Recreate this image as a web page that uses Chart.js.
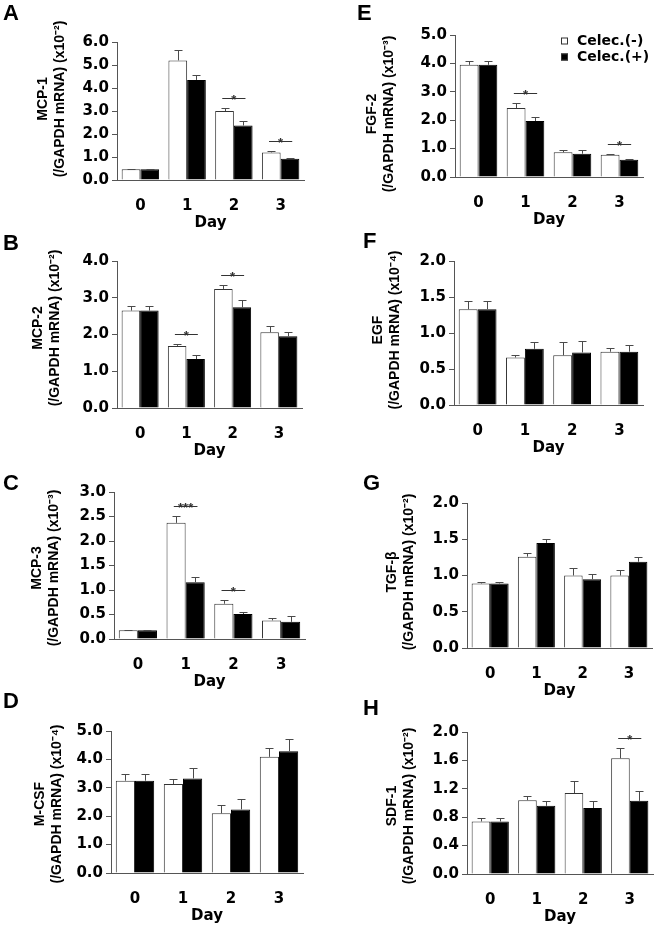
<!DOCTYPE html>
<html lang="en">
<head>
<meta charset="UTF-8">
<title>Cytokine mRNA - Celecoxib</title>
<script src="https://cdn.jsdelivr.net/npm/chart.js@4"></script>
<style>
  body { margin: 0; background: #fff; }
  #fig { position: relative; width: 660px; height: 931px; }
  #fig canvas { position: absolute; }
  .tag { position: absolute; font: bold 22px 'Liberation Sans', Arial, sans-serif; color: #000; line-height: 1; }
</style>
</head>
<body>
<div id="fig"></div>
<script>
  // categories
  const days = ['0', '1', '2', '3'];
  const groupNames = ['Celec.(-)', 'Celec.(+)'];

  // A MCP-1 (x10^-2)
  const mcp1Neg = [0.47, 5.2, 3.0, 1.2];
  const mcp1NegErr = [0.02, 0.45, 0.15, 0.08];
  const mcp1Pos = [0.47, 4.35, 2.37, 0.92];
  const mcp1PosErr = [0.02, 0.22, 0.18, 0.04];
  const mcp1Sig = [2, 3];
  const mcp1Marks = ['*', '*'];

  // B MCP-2 (x10^-2)
  const mcp2Neg = [2.65, 1.69, 3.24, 2.06];
  const mcp2NegErr = [0.12, 0.06, 0.11, 0.18];
  const mcp2Pos = [2.65, 1.33, 2.74, 1.95];
  const mcp2PosErr = [0.12, 0.11, 0.19, 0.13];
  const mcp2Sig = [1, 2];
  const mcp2Marks = ['*', '*'];

  // C MCP-3 (x10^-3)
  const mcp3Neg = [0.18, 2.37, 0.72, 0.38];
  const mcp3NegErr = [0.01, 0.14, 0.07, 0.04];
  const mcp3Pos = [0.18, 1.16, 0.51, 0.35];
  const mcp3PosErr = [0.01, 0.10, 0.04, 0.12];
  const mcp3Sig = [1, 2];
  const mcp3Marks = ['***', '*'];

  // D M-CSF (x10^-4)
  const mcsfNeg = [3.25, 3.13, 2.10, 4.09];
  const mcsfNegErr = [0.25, 0.17, 0.29, 0.31];
  const mcsfPos = [3.25, 3.33, 2.24, 4.29];
  const mcsfPosErr = [0.25, 0.35, 0.35, 0.44];

  // E FGF-2 (x10^-3)
  const fgf2Neg = [3.95, 2.43, 0.87, 0.78];
  const fgf2NegErr = [0.12, 0.17, 0.07, 0.04];
  const fgf2Pos = [3.95, 1.97, 0.82, 0.61];
  const fgf2PosErr = [0.12, 0.13, 0.12, 0.03];
  const fgf2Sig = [1, 3];
  const fgf2Marks = ['*', '*'];

  // F EGF (x10^-4)
  const egfNeg = [1.33, 0.66, 0.69, 0.74];
  const egfNegErr = [0.12, 0.04, 0.19, 0.05];
  const egfPos = [1.33, 0.78, 0.73, 0.74];
  const egfPosErr = [0.12, 0.10, 0.16, 0.09];

  // G TGF-beta (x10^-2)
  const tgfbNeg = [0.89, 1.26, 1.00, 1.00];
  const tgfbNegErr = [0.02, 0.05, 0.11, 0.08];
  const tgfbPos = [0.89, 1.45, 0.95, 1.19];
  const tgfbPosErr = [0.02, 0.06, 0.07, 0.06];

  // H SDF-1 (x10^-2)
  const sdf1Neg = [0.74, 1.04, 1.14, 1.63];
  const sdf1NegErr = [0.045, 0.06, 0.17, 0.15];
  const sdf1Pos = [0.74, 0.96, 0.93, 1.03];
  const sdf1PosErr = [0.045, 0.07, 0.10, 0.14];
  const sdf1Sig = [3];
  const sdf1Marks = ['*'];

  const FONT = "'Liberation Sans', Arial, sans-serif";
  const WIDE = "'DejaVu Sans', 'Liberation Sans', sans-serif";

  // panel layout: chart area [left, right, top, bottom] in page pixels
  const panels = [
    { tag: 'A', name: 'MCP-1', exp: '⁻²', neg: mcp1Neg, negErr: mcp1NegErr, pos: mcp1Pos, posErr: mcp1PosErr, sig: mcp1Sig, marks: mcp1Marks, max: 6, step: 1, col: 0, area: [117, 304, 42, 180], titleX: 43, titleY: 99, tagPos: [3, 2] },
    { tag: 'B', name: 'MCP-2', exp: '⁻²', neg: mcp2Neg, negErr: mcp2NegErr, pos: mcp2Pos, posErr: mcp2PosErr, sig: mcp2Sig, marks: mcp2Marks, max: 4, step: 1, col: 0, area: [117, 302, 261, 408], titleX: 38, titleY: 328, tagPos: [3, 232] },
    { tag: 'C', name: 'MCP-3', exp: '⁻³', neg: mcp3Neg, negErr: mcp3NegErr, pos: mcp3Pos, posErr: mcp3PosErr, sig: mcp3Sig, marks: mcp3Marks, max: 3, step: 0.5, col: 0, area: [114, 305, 492, 639], titleX: 37, titleY: 568, tagPos: [3, 472] },
    { tag: 'D', name: 'M-CSF', exp: '⁻⁴', neg: mcsfNeg, negErr: mcsfNegErr, pos: mcsfPos, posErr: mcsfPosErr, sig: [], marks: [], max: 5, step: 1, col: 0, area: [111, 303, 731, 873], titleX: 40, titleY: 804, tagPos: [3, 690] },
    { tag: 'E', name: 'FGF-2', exp: '⁻³', neg: fgf2Neg, negErr: fgf2NegErr, pos: fgf2Pos, posErr: fgf2PosErr, sig: fgf2Sig, marks: fgf2Marks, max: 5, step: 1, col: 1, area: [455, 643, 35, 177], titleX: 42, titleY: 114, tagPos: [357, 2], legend: true },
    { tag: 'F', name: 'EGF', exp: '⁻⁴', neg: egfNeg, negErr: egfNegErr, pos: egfPos, posErr: egfPosErr, sig: [], marks: [], max: 2, step: 0.5, col: 1, area: [454, 643, 261, 405], titleX: 48, titleY: 330, tagPos: [363, 230] },
    { tag: 'G', name: 'TGF-β', exp: '⁻²', neg: tgfbNeg, negErr: tgfbNegErr, pos: tgfbPos, posErr: tgfbPosErr, sig: [], marks: [], max: 2, step: 0.5, col: 1, area: [467, 652, 503, 648], titleX: 62, titleY: 572, tagPos: [363, 472] },
    { tag: 'H', name: 'SDF-1', exp: '⁻²', neg: sdf1Neg, negErr: sdf1NegErr, pos: sdf1Pos, posErr: sdf1PosErr, sig: sdf1Sig, marks: sdf1Marks, max: 2, step: 0.4, col: 1, area: [467, 653, 732, 874], titleX: 62, titleY: 806, tagPos: [363, 697] }
  ];

  // error bars (upper whisker only)
  const errorBars = {
    id: 'errorBars',
    afterDatasetsDraw(chart) {
      const ctx = chart.ctx;
      const y = chart.scales.y;
      chart.data.datasets.forEach((ds, i) => {
        chart.getDatasetMeta(i).data.forEach((bar, j) => {
          const x = Math.round(bar.x) + 0.5;
          const top = Math.round(y.getPixelForValue(ds.data[j] + ds.err[j])) + 0.5;
          ctx.save();
          ctx.strokeStyle = '#4a4a4a';
          ctx.lineWidth = 1;
          ctx.beginPath();
          ctx.moveTo(x, bar.y);
          ctx.lineTo(x, top);
          ctx.moveTo(x - 4, top);
          ctx.lineTo(x + 4, top);
          ctx.stroke();
          ctx.restore();
        });
      });
    }
  };

  // significance line + stars
  const sigMarks = {
    id: 'sigMarks',
    afterDatasetsDraw(chart, args, opts) {
      if (!opts.days || !opts.days.length) return;
      const ctx = chart.ctx;
      const y = chart.scales.y;
      const x = chart.scales.x;
      const ds = chart.data.datasets;
      opts.days.forEach((d, k) => {
        const w = chart.getDatasetMeta(0).data[d].width;
        const cx = x.getPixelForValue(d);
        const top = Math.min(
          y.getPixelForValue(ds[0].data[d] + ds[0].err[d]),
          y.getPixelForValue(ds[1].data[d] + ds[1].err[d])
        );
        const ly = Math.round(top - 10) + 0.5;
        ctx.save();
        ctx.strokeStyle = '#333';
        ctx.lineWidth = 1;
        ctx.beginPath();
        ctx.moveTo(cx - w * 0.62, ly);
        ctx.lineTo(cx + w * 0.62, ly);
        ctx.stroke();
        ctx.fillStyle = '#333';
        ctx.font = 'bold 13px ' + FONT;
        ctx.textAlign = 'center';
        ctx.textBaseline = 'alphabetic';
        ctx.fillText(opts.marks[k], cx, ly + 5);
        ctx.restore();
      });
    }
  };

  // rotated two-line y title
  const yTitle = {
    id: 'yTitle',
    afterDraw(chart, args, opts) {
      const ctx = chart.ctx;
      ctx.save();
      ctx.translate(opts.x, opts.y);
      ctx.rotate(-Math.PI / 2);
      ctx.font = 'bold 14px ' + FONT;
      ctx.fillStyle = '#000';
      ctx.textAlign = 'center';
      ctx.textBaseline = 'middle';
      opts.lines.forEach((t, i) => ctx.fillText(t, 0, i * 17));
      ctx.restore();
    }
  };

  // small box legend drawn inside panel E
  const boxLegend = {
    id: 'boxLegend',
    afterDraw(chart, args, opts) {
      if (!opts.show) return;
      const ctx = chart.ctx;
      const a = chart.chartArea;
      const bx = a.right - 82, by = a.top + 6;
      ctx.save();
      ctx.font = 'bold 14px ' + WIDE;
      ctx.textBaseline = 'middle';
      ctx.textAlign = 'left';
      chart.data.datasets.forEach((ds, i) => {
        const cy = by + i * 16;
        ctx.fillStyle = ds.backgroundColor;
        ctx.fillRect(bx, cy - 3.5, 7, 7);
        ctx.strokeStyle = '#333';
        ctx.lineWidth = 1;
        ctx.strokeRect(bx + 0.5, cy - 3.5 + 0.5, 6, 6);
        ctx.fillStyle = '#000';
        ctx.fillText(ds.label, bx + 16, cy);
      });
      ctx.restore();
    }
  };

  const fig = document.getElementById('fig');

  panels.forEach(p => {
    const [L, R, T, B] = p.area;
    const cLeft = p.col * 330;
    const cTop = T - 25;
    const cW = 330;
    const cH = B - cTop + 54;

    const canvas = document.createElement('canvas');
    canvas.width = cW;
    canvas.height = cH;
    canvas.style.left = cLeft + 'px';
    canvas.style.top = cTop + 'px';
    fig.appendChild(canvas);

    const tag = document.createElement('div');
    tag.className = 'tag';
    tag.textContent = p.tag;
    tag.style.left = p.tagPos[0] + 'px';
    tag.style.top = p.tagPos[1] + 'px';
    fig.appendChild(tag);

    new Chart(canvas, {
      type: 'bar',
      data: {
        labels: days,
        datasets: [
          { label: groupNames[0], data: p.neg, err: p.negErr, backgroundColor: '#ffffff', borderColor: '#333333', borderWidth: 1 },
          { label: groupNames[1], data: p.pos, err: p.posErr, backgroundColor: '#000000', borderColor: '#000000', borderWidth: 1 }
        ]
      },
      options: {
        responsive: false,
        animation: false,
        devicePixelRatio: 1,
        layout: { padding: { left: 0, top: 25, bottom: 0, right: cLeft + cW - R } },
        datasets: { bar: { categoryPercentage: 0.8, barPercentage: 1.0 } },
        plugins: {
          legend: { display: false },
          tooltip: { enabled: false },
          sigMarks: { days: p.sig, marks: p.marks },
          boxLegend: { show: !!p.legend },
          yTitle: { lines: [p.name, '(/GAPDH mRNA) (x10' + p.exp + ')'], x: p.titleX, y: p.titleY - cTop }
        },
        scales: {
          x: {
            grid: { display: false },
            border: { display: true, color: '#555', width: 1 },
            ticks: { color: '#000', font: { family: WIDE, size: 15, weight: 'bold' }, padding: 9 },
            title: { display: true, text: 'Day', color: '#000', font: { family: WIDE, size: 15, weight: 'bold', lineHeight: 1.15 }, padding: { top: 0, bottom: 2 } },
            afterFit: s => { s.height = 54; }
          },
          y: {
            min: 0,
            max: p.max,
            grid: { drawOnChartArea: false, drawTicks: true, tickLength: 5, color: '#555' },
            border: { display: true, color: '#555', width: 1 },
            ticks: { stepSize: p.step, color: '#000', font: { family: WIDE, size: 15, weight: 'bold' }, padding: 3, callback: v => v.toFixed(1) },
            title: { display: false },
            afterFit: s => { s.width = L - cLeft; }
          }
        }
      },
      plugins: [errorBars, sigMarks, yTitle, boxLegend]
    });
  });
</script>
</body>
</html>
